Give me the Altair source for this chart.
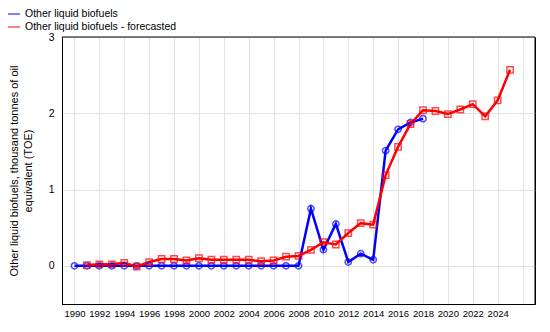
import altair as alt
import pandas as pd

years_actual = list(range(1990, 2019))
actual = [0, 0, 0, 0, 0, 0, 0, 0, 0, 0, 0, 0, 0, 0, 0, 0, 0, 0, 0,
          0.75, 0.21, 0.55, 0.05, 0.16, 0.08, 1.51, 1.79, 1.88, 1.93]

years_fc = list(range(1991, 2026))
forecast = [0.01, 0.02, 0.02, 0.04, -0.01, 0.05, 0.09, 0.09, 0.07, 0.10,
            0.08, 0.08, 0.08, 0.08, 0.06, 0.07, 0.12, 0.13, 0.21, 0.31,
            0.28, 0.43, 0.56, 0.54, 1.19, 1.56, 1.86, 2.04, 2.03, 1.99,
            2.05, 2.12, 1.96, 2.17, 2.57]

x_domain = [1989, 2027]
y_domain = [-0.5, 3]

s1 = "Other liquid biofuels"
s2 = "Other liquid biofuels - forecasted"

df = pd.concat([
    pd.DataFrame({"year": years_actual, "value": actual, "series": s1}),
    pd.DataFrame({"year": years_fc, "value": forecast, "series": s2}),
])
df["series2"] = df["series"]

color_scale = alt.Scale(domain=[s1, s2], range=["#0000ff", "#ff0000"])
shape_scale = alt.Scale(domain=[s1, s2], range=["circle", "square"])
xscale = alt.Scale(domain=x_domain, nice=False, zero=False)
yscale = alt.Scale(domain=y_domain, nice=False)

x = alt.X("year:Q", scale=xscale,
          axis=alt.Axis(values=list(range(1990, 2027, 2)), title=None,
                        labelExpr="datum.value == 2026 ? '' : datum.value",
                        format="d", labelFontSize=9.5, tickSize=0, labelPadding=4,
                        grid=True, gridColor="#e2e2e2", domain=True, domainColor="#000",
                        labelColor="#000", labelFont="Liberation Sans"))
y = alt.Y("value:Q", scale=yscale,
          axis=alt.Axis(values=[0, 1, 2, 3], title=["Other liquid biofuels, thousand tonnes of oil", "equivalent (TOE)"],
                        labelFontSize=10.5, tickSize=0, labelPadding=8, grid=True,
                        gridColor="#e2e2e2", domain=True, domainColor="#000", labelColor="#000",
                        titleFontSize=11, titleFontWeight="normal", titleColor="#000",
                        titleFont="Liberation Sans", labelFont="Liberation Sans",
                        titlePadding=15, titleLineHeight=14))

lines = alt.Chart(df).mark_line(strokeWidth=2.5).encode(
    x=x, y=y,
    color=alt.Color("series:N", scale=color_scale,
                    legend=alt.Legend(title=None, orient="none", legendX=-55, legendY=-30,
                                      labelFontSize=10.5, labelFont="Liberation Sans",
                                      labelColor="#000", symbolType="stroke",
                                      symbolStrokeWidth=1, symbolSize=150, rowPadding=0)),
)

points = alt.Chart(df).mark_point(filled=False, size=40, strokeWidth=1.5).encode(
    x=x, y=y,
    color=alt.Color("series2:N", scale=color_scale, legend=None),
    shape=alt.Shape("series2:N", scale=shape_scale, legend=None),
)

# frame edges (right and top) placed at the scale domain ends
right_edge = alt.Chart(pd.DataFrame({"year": [x_domain[1]]})).mark_rule(
    color="#000", strokeWidth=1).encode(x=x)
top_edge = alt.Chart(pd.DataFrame({"value": [y_domain[1]]})).mark_rule(
    color="#000", strokeWidth=1).encode(y=y)

chart = alt.layer(lines, points, right_edge, top_edge).resolve_scale(color="independent").properties(
    width=473, height=267,
    autosize=alt.AutoSizeParams(type="none"),
    padding={"left": 54, "top": 29, "right": 4, "bottom": 14},
).configure_view(stroke="#000000", strokeWidth=1)

chart.save("out.html", embed_options={"renderer": "svg", "actions": False})
